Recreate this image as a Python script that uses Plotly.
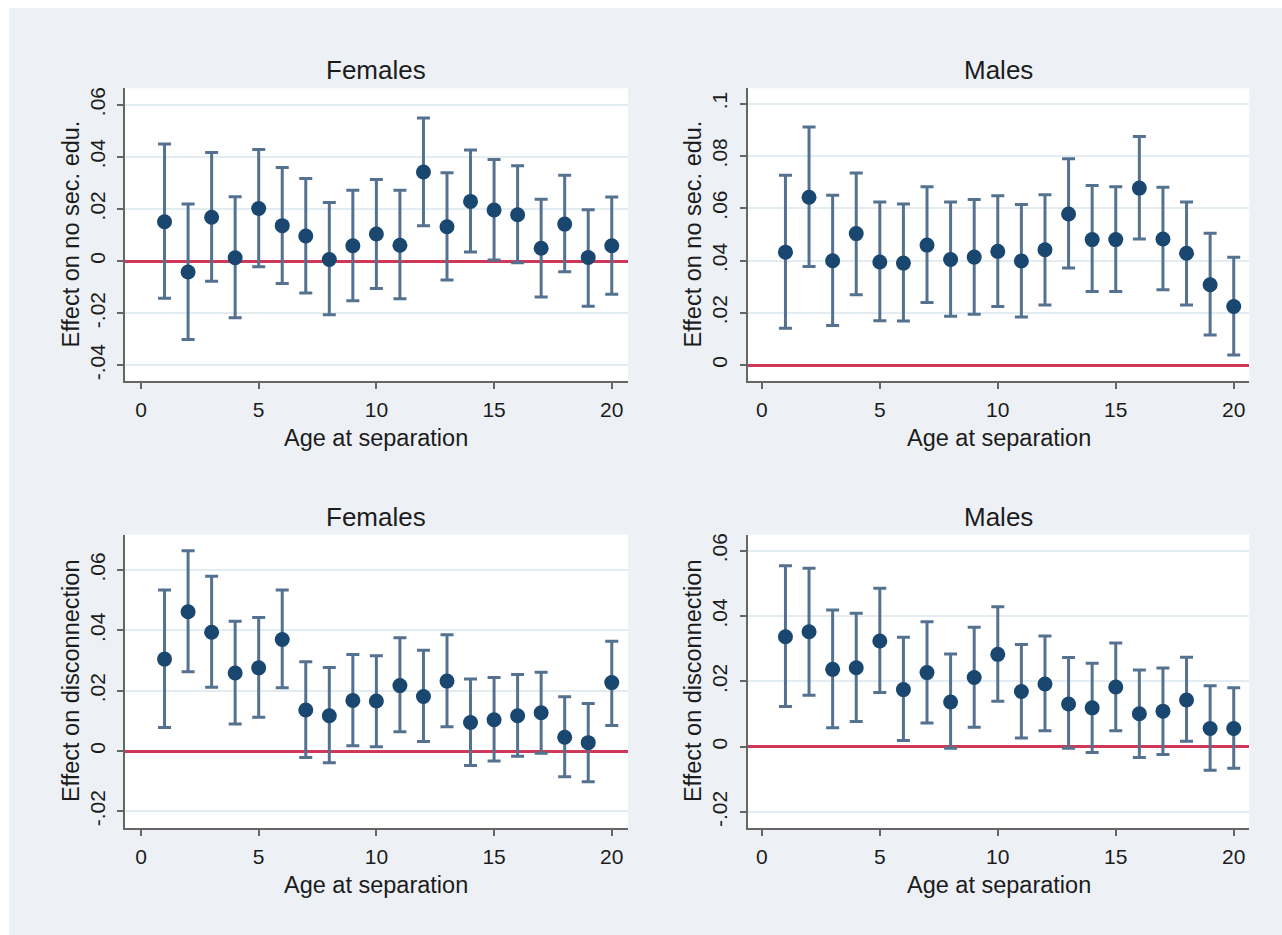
import plotly.graph_objects as go

W, H = 1282, 935

ages = list(range(1, 21))

# Panel A: Females, effect on no secondary education
fem_nosec_est = [0.0151, -0.0042, 0.0168, 0.0013, 0.0202, 0.0136, 0.0096, 0.0006, 0.0059, 0.0104,
                 0.0061, 0.0342, 0.0132, 0.0229, 0.0196, 0.0178, 0.0049, 0.0142, 0.0014, 0.0059]
fem_nosec_hi = [0.0449, 0.0219, 0.0417, 0.0247, 0.0428, 0.0359, 0.0317, 0.0225, 0.0272, 0.0313,
                0.0272, 0.0549, 0.0339, 0.0426, 0.0390, 0.0366, 0.0237, 0.0329, 0.0197, 0.0246]
fem_nosec_lo = [-0.0143, -0.0301, -0.0077, -0.0217, -0.0022, -0.0086, -0.0122, -0.0206, -0.0152, -0.0105,
                -0.0145, 0.0136, -0.0073, 0.0035, 0.0004, -0.0006, -0.0138, -0.0041, -0.0173, -0.0127]

# Panel B: Males, effect on no secondary education
mal_nosec_est = [0.0432, 0.0642, 0.0399, 0.0503, 0.0394, 0.0390, 0.0459, 0.0404, 0.0413, 0.0435,
                 0.0398, 0.0441, 0.0578, 0.0480, 0.0480, 0.0677, 0.0482, 0.0428, 0.0307, 0.0224]
mal_nosec_hi = [0.0726, 0.0911, 0.0650, 0.0735, 0.0624, 0.0616, 0.0682, 0.0624, 0.0633, 0.0648,
                0.0614, 0.0652, 0.0789, 0.0687, 0.0682, 0.0875, 0.0680, 0.0624, 0.0504, 0.0412]
mal_nosec_lo = [0.0141, 0.0377, 0.0151, 0.0269, 0.0169, 0.0168, 0.0239, 0.0187, 0.0194, 0.0224,
                0.0184, 0.0230, 0.0371, 0.0281, 0.0281, 0.0482, 0.0288, 0.0230, 0.0115, 0.0038]

# Panel C: Females, effect on disconnection
fem_disc_est = [0.0305, 0.0462, 0.0394, 0.0259, 0.0276, 0.0370, 0.0136, 0.0117, 0.0168, 0.0166,
                0.0217, 0.0181, 0.0232, 0.0095, 0.0104, 0.0117, 0.0127, 0.0046, 0.0028, 0.0227]
fem_disc_hi = [0.0534, 0.0664, 0.0580, 0.0430, 0.0443, 0.0534, 0.0296, 0.0277, 0.0320, 0.0316,
               0.0376, 0.0334, 0.0386, 0.0239, 0.0244, 0.0254, 0.0261, 0.0180, 0.0158, 0.0364]
fem_disc_lo = [0.0078, 0.0263, 0.0212, 0.0090, 0.0112, 0.0210, -0.0021, -0.0039, 0.0018, 0.0014,
               0.0064, 0.0032, 0.0081, -0.0048, -0.0033, -0.0017, -0.0007, -0.0085, -0.0102, 0.0085]

# Panel D: Males, effect on disconnection
mal_disc_est = [0.0337, 0.0352, 0.0237, 0.0242, 0.0324, 0.0175, 0.0227, 0.0137, 0.0212, 0.0283,
                0.0169, 0.0192, 0.0131, 0.0119, 0.0183, 0.0101, 0.0109, 0.0143, 0.0056, 0.0056]
mal_disc_hi = [0.0554, 0.0547, 0.0419, 0.0409, 0.0485, 0.0335, 0.0383, 0.0284, 0.0366, 0.0429,
               0.0313, 0.0339, 0.0273, 0.0256, 0.0318, 0.0235, 0.0241, 0.0274, 0.0187, 0.0181]
mal_disc_lo = [0.0123, 0.0158, 0.0058, 0.0077, 0.0166, 0.0019, 0.0073, -0.0005, 0.0060, 0.0139,
               0.0027, 0.0049, -0.0005, -0.0018, 0.0049, -0.0033, -0.0024, 0.0017, -0.0072, -0.0066]

x_tickvals = [0, 5, 10, 15, 20]
x_ticktext = ["0", "5", "10", "15", "20"]

yA_vals = [-0.04, -0.02, 0, 0.02, 0.04, 0.06]
yA_text = ["-.04", "-.02", "0", ".02", ".04", ".06"]
yB_vals = [0, 0.02, 0.04, 0.06, 0.08, 0.1]
yB_text = ["0", ".02", ".04", ".06", ".08", ".1"]
yC_vals = [-0.02, 0, 0.02, 0.04, 0.06]
yC_text = ["-.02", "0", ".02", ".04", ".06"]
yD_vals = [-0.02, 0, 0.02, 0.04, 0.06]
yD_text = ["-.02", "0", ".02", ".04", ".06"]

titles = ["Females", "Males", "Females", "Males"]
ytitles = ["Effect on no sec. edu.", "Effect on no sec. edu.",
           "Effect on disconnection", "Effect on disconnection"]
xtitle = "Age at separation"

# ---- styling ----
BG = "#edf1f6"
NAVY = "#1a476f"
BAR = "#54718f"
RED = "#d0385a"
AXC = "#666666"
GRID = "#e3edf1"
TXT = "#1c1c1c"
FONT = "Liberation Sans, Arial, sans-serif"


def px_x(p):
    return p / W


def px_y(p):
    return 1 - p / H


panels = [
    dict(est=fem_nosec_est, lo=fem_nosec_lo, hi=fem_nosec_hi, yv=yA_vals, yt=yA_text,
         xpx=(125, 628), ypx=(88.3, 380.7), xr=[-0.68, 20.69], yr=[-0.0459, 0.0663]),
    dict(est=mal_nosec_est, lo=mal_nosec_lo, hi=mal_nosec_hi, yv=yB_vals, yt=yB_text,
         xpx=(747.7, 1249.3), ypx=(88.3, 380.7), xr=[-0.6, 20.66], yr=[-0.0060, 0.1059]),
    dict(est=fem_disc_est, lo=fem_disc_lo, hi=fem_disc_hi, yv=yC_vals, yt=yC_text,
         xpx=(125, 628), ypx=(534.5, 827.7), xr=[-0.68, 20.69], yr=[-0.0254, 0.0718]),
    dict(est=mal_disc_est, lo=mal_disc_lo, hi=mal_disc_hi, yv=yD_vals, yt=yD_text,
         xpx=(747.7, 1249.3), ypx=(534.5, 827.7), xr=[-0.6, 20.66], yr=[-0.0248, 0.0650]),
]

fig = go.Figure()
annotations = []
layout_axes = {}

for i, p in enumerate(panels):
    n = i + 1
    xa = "x" if n == 1 else f"x{n}"
    ya = "y" if n == 1 else f"y{n}"
    plus = [h - e for h, e in zip(p["hi"], p["est"])]
    minus = [e - l for e, l in zip(p["est"], p["lo"])]
    fig.add_trace(go.Scatter(
        x=ages, y=p["est"], mode="markers", xaxis=xa, yaxis=ya, showlegend=False,
        marker=dict(color=NAVY, size=15, line=dict(width=0)),
        error_y=dict(type="data", symmetric=False, array=plus, arrayminus=minus,
                     color=BAR, thickness=3, width=6.5),
    ))
    x0, x1 = p["xpx"]
    y0, y1 = p["ypx"]
    xkey = "xaxis" if n == 1 else f"xaxis{n}"
    ykey = "yaxis" if n == 1 else f"yaxis{n}"
    layout_axes[xkey] = dict(
        domain=[px_x(x0), px_x(x1)], anchor=ya, range=p["xr"],
        tickmode="array", tickvals=x_tickvals, ticktext=x_ticktext,
        showgrid=False, zeroline=False, showline=True, linecolor=AXC, linewidth=2,
        ticks="outside", ticklen=6, tickwidth=2, tickcolor=AXC,
        tickfont=dict(family=FONT, size=21, color=TXT), ticklabelstandoff=3,
    )
    layout_axes[ykey] = dict(
        domain=[px_y(y1), px_y(y0)], anchor=xa, range=p["yr"],
        tickmode="array", tickvals=p["yv"], ticktext=p["yt"], tickangle=-90,
        showgrid=True, gridcolor=GRID, gridwidth=1.5,
        zeroline=True, zerolinecolor=RED, zerolinewidth=2.5,
        showline=True, linecolor=AXC, linewidth=2,
        ticks="outside", ticklen=6, tickwidth=2, tickcolor=AXC,
        tickfont=dict(family=FONT, size=21, color=TXT), ticklabelstandoff=4,
    )
    cx = (x0 + x1) / 2
    cy = (y0 + y1) / 2
    top_title_y = 70 if n <= 2 else 517
    xtitle_y = 438 if n <= 2 else 885
    ytitle_x = 71 if n % 2 == 1 else 693
    annotations.append(dict(text=titles[i], x=px_x(cx), y=px_y(top_title_y), xref="paper", yref="paper",
                            xanchor="center", yanchor="middle", showarrow=False,
                            font=dict(family=FONT, size=26, color=TXT)))
    annotations.append(dict(text=xtitle, x=px_x(cx), y=px_y(xtitle_y), xref="paper", yref="paper",
                            xanchor="center", yanchor="middle", showarrow=False,
                            font=dict(family=FONT, size=23.5, color=TXT)))
    annotations.append(dict(text=ytitles[i], x=px_x(ytitle_x), y=px_y(cy), xref="paper", yref="paper",
                            xanchor="center", yanchor="middle", showarrow=False, textangle=-90,
                            font=dict(family=FONT, size=23.5, color=TXT)))

shapes = [
    dict(type="rect", xref="paper", yref="paper", x0=0, x1=1, y0=px_y(8), y1=1,
         fillcolor="white", line=dict(width=0), layer="below"),
    dict(type="rect", xref="paper", yref="paper", x0=0, x1=px_x(9), y0=0, y1=1,
         fillcolor="white", line=dict(width=0), layer="below"),
]

fig.update_layout(
    width=W, height=H, margin=dict(l=0, r=0, t=0, b=0),
    paper_bgcolor=BG, plot_bgcolor="white",
    annotations=annotations, shapes=shapes, showlegend=False,
    **layout_axes,
)

fig.write_html("out.html", config={"displayModeBar": False})
